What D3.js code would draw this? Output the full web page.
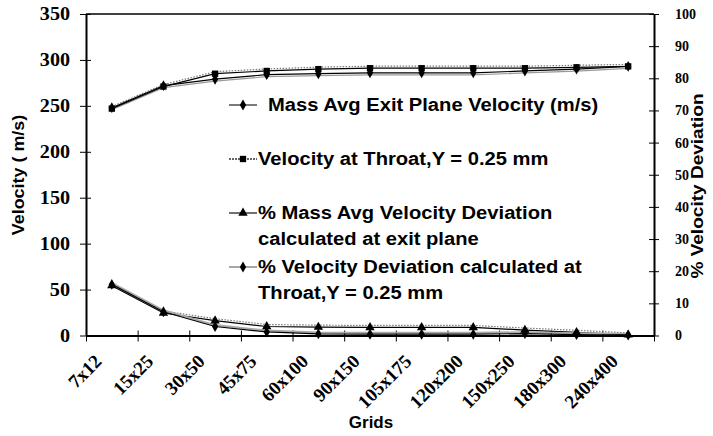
<!DOCTYPE html>
<html>
<head>
<meta charset="utf-8">
<script src="https://cdn.jsdelivr.net/npm/d3@7/dist/d3.min.js"></script>
<style>
  html, body { margin: 0; padding: 0; background: #fff; }
  svg { display: block; }
</style>
</head>
<body>
<svg id="chart" width="713" height="436"></svg>
<script>
// Grid sizes along the x axis
const categories = ["7x12", "15x25", "30x50", "45x75", "60x100", "90x150",
                    "105x175", "120x200", "150x250", "180x300", "240x400"];

// Velocities (m/s), left axis
const velMassAvg = [248, 272, 279, 284, 285, 286, 286, 286, 288, 290, 293];
const velThroat  = [247, 271, 285, 288, 290, 291, 291, 291, 291, 292, 293];

// Percentage deviations, right axis
const devMassAvg = [15.5, 7.0, 4.6, 2.8, 2.6, 2.5, 2.5, 2.5, 1.7, 1.0, 0.2];
const devThroat  = [15.9, 7.4, 2.8, 1.1, 0.5, 0.4, 0.4, 0.4, 0.6, 0.3, 0.1];

// Axis ticks
const leftTicks  = [0, 50, 100, 150, 200, 250, 300, 350];
const rightTicks = [0, 10, 20, 30, 40, 50, 60, 70, 80, 90, 100];

// Legend entries
const legendLabels = [
  ["Mass Avg Exit Plane Velocity (m/s)"],
  ["Velocity at Throat,Y = 0.25 mm"],
  ["% Mass Avg Velocity Deviation", "calculated at exit plane"],
  ["% Velocity Deviation calculated at", "Throat,Y = 0.25 mm"]
];

const SANS = "'Liberation Sans', Arial, sans-serif";
const SERIF = "'Liberation Serif', 'Times New Roman', serif";

const svg = d3.select("#chart");
const plot = { left: 86, right: 654, top: 14, bottom: 335.5 };

const x = d3.scaleBand().domain(categories).range([plot.left, plot.right]).paddingInner(0).paddingOuter(0);
const xc = d => x(d) + x.bandwidth() / 2;
const xEdge = d3.scaleLinear().domain([0, categories.length]).range([plot.left, plot.right]);
const yL = d3.scaleLinear().domain([0, 350]).range([plot.bottom, plot.top]);
const yR = d3.scaleLinear().domain([0, 100]).range([plot.bottom, plot.top]);

// Stretch text horizontally to the wide lettering of the chart
function stretch(sel, k) {
  sel.each(function () {
    const w = this.getComputedTextLength();
    this.setAttribute("textLength", (w * k).toFixed(1));
    this.setAttribute("lengthAdjust", "spacingAndGlyphs");
  });
}

// Top border of the plot area
svg.append("line")
  .attr("x1", plot.left).attr("x2", plot.right)
  .attr("y1", plot.top).attr("y2", plot.top)
  .attr("stroke", "#000").attr("stroke-width", 1.5);

// Left axis
const gL = svg.append("g").attr("transform", `translate(${plot.left},0)`)
  .call(d3.axisLeft(yL).tickValues(leftTicks).tickSizeInner(6).tickSizeOuter(0).tickPadding(10));
gL.select(".domain").attr("stroke-width", 2);
gL.selectAll(".tick line").attr("x1", 5).attr("stroke-width", 1);
gL.selectAll(".tick text")
  .style("font-family", SERIF).style("font-weight", "bold").style("font-size", "18px").attr("fill", "#000")
  .call(stretch, 1.12);

// Right axis
const gR = svg.append("g").attr("transform", `translate(${plot.right},0)`)
  .call(d3.axisRight(yR).tickValues(rightTicks).tickSizeInner(5).tickSizeOuter(0).tickPadding(16));
gR.select(".domain").attr("stroke-width", 2);
gR.selectAll(".tick line").attr("x1", -5).attr("stroke-width", 1);
gR.selectAll(".tick text")
  .style("font-family", SERIF).style("font-weight", "bold").style("font-size", "14px").attr("fill", "#000");

// Bottom axis: ticks sit on category boundaries
const gB = svg.append("g").attr("transform", `translate(0,${plot.bottom})`)
  .call(d3.axisBottom(xEdge).tickValues(d3.range(0, categories.length + 1)).tickFormat("")
    .tickSizeInner(6).tickSizeOuter(0));
gB.select(".domain").attr("stroke-width", 2);
gB.selectAll(".tick line").attr("y1", -5).attr("stroke-width", 1);

// Rotated category labels
svg.append("g").selectAll("text").data(categories).join("text")
  .attr("transform", d => `translate(${xc(d) - 9},${plot.bottom + 27}) rotate(-45)`)
  .attr("text-anchor", "end")
  .style("font-family", SERIF).style("font-weight", "bold").style("font-size", "19px")
  .text(d => d);

// Axis titles
svg.append("text")
  .attr("transform", `translate(24,175) rotate(-90)`)
  .attr("text-anchor", "middle")
  .style("font-family", SANS).style("font-weight", "bold").style("font-size", "16px")
  .text("Velocity ( m/s)").call(stretch, 1.12);

svg.append("text")
  .attr("transform", `translate(703,186) rotate(-90)`)
  .attr("text-anchor", "middle")
  .style("font-family", SANS).style("font-weight", "bold").style("font-size", "17px")
  .text("% Velocity Deviation").call(stretch, 1.12);

svg.append("text")
  .attr("x", 371).attr("y", 428)
  .attr("text-anchor", "middle")
  .style("font-family", SANS).style("font-weight", "bold").style("font-size", "17px")
  .text("Grids");

// Marker shapes
const sym = {
  diamond: d3.symbol().type(d3.symbolDiamond).size(34),
  square: d3.symbol().type(d3.symbolSquare).size(40),
  triangle: d3.symbol().type(d3.symbolTriangle).size(38)
};

const series = [
  { values: velMassAvg, y: yL, marker: "diamond",
    strokes: [{ c: "#000", w: 1.2, dy: 0 }, { c: "#9a9a9a", w: 1.2, dy: 2 }] },
  { values: velThroat, y: yL, marker: "square",
    strokes: [{ c: "#000", w: 1.2, dy: 0 }, { c: "#777", w: 1.2, dy: -2, dash: "1.5,1.5" }] },
  { values: devMassAvg, y: yR, marker: "triangle",
    strokes: [{ c: "#000", w: 1.2, dy: 0 }, { c: "#777", w: 1.2, dy: -2, dash: "1.5,1.5" }] },
  { values: devThroat, y: yR, marker: "diamond",
    strokes: [{ c: "#000", w: 1.2, dy: 0 }, { c: "#a8a8a8", w: 1.8, dy: -1.5 }] }
];

const gS = svg.append("g");
series.forEach(s => {
  const line = d3.line().x((d, i) => xc(categories[i])).y(d => s.y(d));
  s.strokes.slice().reverse().forEach(st => {
    gS.append("path").datum(s.values)
      .attr("d", line)
      .attr("transform", `translate(0,${st.dy})`)
      .attr("fill", "none").attr("stroke", st.c).attr("stroke-width", st.w)
      .attr("stroke-dasharray", st.dash || null);
  });
});
series.forEach(s => {
  gS.append("g").selectAll("path").data(s.values).join("path")
    .attr("transform", (d, i) => `translate(${xc(categories[i])},${s.y(d)})`)
    .attr("d", sym[s.marker]())
    .attr("fill", "#000");
});

// Legend
const legendRowY = [105, 159, 213, 267];
const legendIndent = [10, 0, 0, 0];
const legendLineStyles = [
  { c: "#333", dash: null },
  { c: "#333", dash: "2,1" },
  { c: "#222", dash: null },
  { c: "#777", dash: null }
];
const gLeg = svg.append("g");
legendLabels.forEach((lines, r) => {
  const yy = legendRowY[r];
  const st = legendLineStyles[r];
  gLeg.append("line").attr("x1", 229).attr("x2", 257).attr("y1", yy).attr("y2", yy)
    .attr("stroke", st.c).attr("stroke-width", 1.3).attr("stroke-dasharray", st.dash);
  gLeg.append("path").attr("transform", `translate(243,${yy})`)
    .attr("d", sym[series[r].marker]()).attr("fill", "#000");
  lines.forEach((t, j) => {
    gLeg.append("text")
      .attr("x", 258 + legendIndent[r]).attr("y", yy + j * 26).attr("dy", "0.36em")
      .style("font-family", SANS).style("font-weight", "bold").style("font-size", "18px")
      .text(t).call(stretch, 1.12);
  });
});
</script>
</body>
</html>
